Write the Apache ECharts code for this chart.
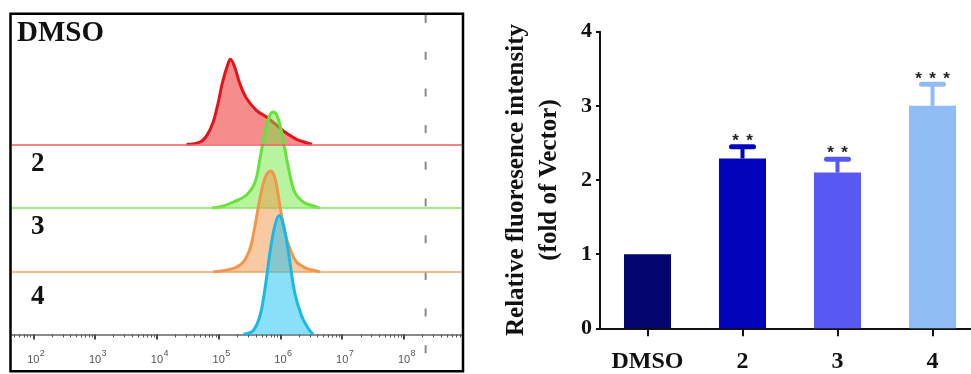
<!DOCTYPE html>
<html>
<head>
<meta charset="utf-8">
<script src="https://cdn.jsdelivr.net/npm/echarts@6/dist/echarts.min.js"></script>
<style>
html,body{margin:0;padding:0;background:#fff;}
#chart{width:971px;height:374px;}
</style>
</head>
<body>
<div id="chart"></div>
<script>
// ---------- Flow cytometry histograms (x = log10 fluorescence, y = relative count) ----------
const histNames = ['DMSO', '2', '3', '4'];
const histX_DMSO = [4.48, 4.70, 4.81, 4.91, 4.99, 5.07, 5.16, 5.19, 5.26, 5.34, 5.45, 5.61, 5.78, 5.94, 6.10, 6.26, 6.42, 6.51];
const histY_DMSO = [0, 2.3, 9, 22, 41, 64, 82, 85, 77, 61, 46, 34, 27, 19, 11, 5, 1.5, 0];
const histX_2 = [4.89, 5.02, 5.24, 5.45, 5.59, 5.67, 5.75, 5.83, 5.89, 5.96, 6.05, 6.13, 6.23, 6.37, 6.53, 6.64];
const histY_2 = [0, 1, 6, 13, 26, 50, 76, 93, 96, 90, 66, 40, 16, 6, 2, 0];
const histX_3 = [4.91, 5.24, 5.40, 5.51, 5.59, 5.67, 5.75, 5.84, 5.91, 5.99, 6.07, 6.15, 6.26, 6.42, 6.59, 6.64];
const histY_3 = [0, 3.7, 10, 24, 47, 74, 94, 101, 94, 67, 40, 24, 10, 3.7, 1, 0];
const histX_4 = [5.40, 5.56, 5.67, 5.75, 5.83, 5.91, 5.98, 6.05, 6.13, 6.23, 6.34, 6.45, 6.53];
const histY_4 = [0, 4, 19, 46, 82, 109, 119, 109, 82, 42, 19, 6, 0];
const gateLog = 8.35;                       // dashed gate line position (log10)
const decadeTicks = [2, 3, 4, 5, 6, 7, 8];  // log10 tick labels 10^n

// ---------- Bar chart ----------
const barCategories = ['DMSO', '2', '3', '4'];
const barValues = [1.0, 2.29, 2.10, 3.0];
const barUpper = [1.0, 2.45, 2.28, 3.29];
const barStars = [0, 2, 2, 3];

// ---------- styling ----------
const histLine = ['#e5141a', '#66e23a', '#f3964a', '#1cb8e4'];
const histFill = ['rgba(238,28,28,0.5)', 'rgba(114,231,66,0.5)', 'rgba(243,150,69,0.5)', 'rgba(21,193,241,0.5)'];
const histBase = ['#ee5a5e', '#7ee858', '#f3a466', null];
const barColors = ['#05056e', '#0303bb', '#5858f4', '#8fbcf2'];
const SERIF = '"Liberation Serif","Times New Roman",serif';
const SANS = '"Liberation Sans",Arial,sans-serif';

const X_MIN = 1.65, X_MAX = 8.95;
const baselines = [144.3, 208, 272, 334.5]; // pixel layout of offset panels
const H = 125;

const minorTicks = [];
for (let n = 1; n <= 8; n++) {
  for (let k = 2; k <= 9; k++) {
    const v = Math.log10(k) + n;
    if (v > X_MIN && v < X_MAX) minorTicks.push(v);
  }
}

const histXs = [histX_DMSO, histX_2, histX_3, histX_4];
const histYs = [histY_DMSO, histY_2, histY_3, histY_4];

const grids = [], xAxes = [], yAxes = [], series = [];
baselines.forEach((b, i) => {
  grids.push({left: 11.7, right: 971 - 462.7, bottom: 374 - b, height: H, outerBoundsMode: 'none', containLabel: false});
  const isBottom = i === 3;
  xAxes.push({
    type: 'value', gridIndex: i, min: X_MIN, max: X_MAX, position: 'bottom',
    show: isBottom,
    axisLine: {show: isBottom, onZero: false, lineStyle: {color: '#666', width: 1.5}},
    axisTick: {show: isBottom, customValues: decadeTicks, length: 5, lineStyle: {color: '#444', width: 2}},
    axisLabel: {
      show: isBottom, customValues: decadeTicks, margin: 20, hideOverlap: false,
      formatter: () => '10',
      fontFamily: SANS, fontSize: 11, color: '#555'
    },
    splitLine: {show: false}
  });
  yAxes.push({type: 'value', gridIndex: i, min: 0, max: H, show: false, splitLine: {show: false}});
  const s = {
    type: 'line', name: histNames[i], xAxisIndex: i, yAxisIndex: i,
    data: histXs[i].map((x, j) => [x, histYs[i][j]]),
    smooth: 0.35, symbol: 'none', silent: true,
    lineStyle: {color: histLine[i], width: 3},
    areaStyle: {color: histFill[i], opacity: 1, origin: 'start'},
    z: 3 + i
  };
  if (histBase[i]) {
    s.markLine = {silent: true, symbol: 'none', label: {show: false},
      lineStyle: {type: 'solid', color: histBase[i], width: 1.5},
      data: [{yAxis: 0}]};
  }
  series.push(s);
});
// minor ticks + superscript exponents for bottom panel
xAxes.push({
  type: 'value', gridIndex: 3, min: X_MIN, max: X_MAX, position: 'bottom',
  axisLine: {show: false},
  axisTick: {show: true, customValues: minorTicks, length: 3, lineStyle: {color: '#555', width: 1}},
  axisLabel: {
    show: true, customValues: decadeTicks, margin: 15, hideOverlap: false,
    formatter: v => '{s|' + v + '}',
    rich: {s: {fontFamily: SANS, fontSize: 9, color: '#555', padding: [0, 0, 0, 18]}}
  },
  splitLine: {show: false}
});
// gate dashed line panel
grids.push({left: 11.7, right: 971 - 462.7, top: 15, bottom: 374 - 358, outerBoundsMode: 'none'});
xAxes.push({type: 'value', gridIndex: 4, min: X_MIN, max: X_MAX, show: false, splitLine: {show: false}});
yAxes.push({type: 'value', gridIndex: 4, min: 0, max: 1, show: false, splitLine: {show: false}});
series.push({
  type: 'line', xAxisIndex: 5, yAxisIndex: 4, silent: true, symbol: 'none',
  data: [[gateLog, 1], [gateLog, 0]],
  lineStyle: {color: '#8a8a8a', width: 2, type: [8, 28.7]}, z: 2
});

// bar chart grid (index 5)
grids.push({left: 600, top: 31.7, width: 380, height: 296.6, outerBoundsMode: 'none'});
xAxes.push({
  type: 'category', gridIndex: 5, data: barCategories,
  axisLine: {show: true, lineStyle: {color: '#111', width: 2}},
  axisTick: {show: true, alignWithLabel: true, length: 8, lineStyle: {color: '#111', width: 2}},
  axisLabel: {fontFamily: SERIF, fontWeight: 'bold', fontSize: 24, color: '#111', margin: 21, interval: 0},
  splitLine: {show: false}
});
yAxes.push({
  type: 'value', gridIndex: 5, min: 0, max: 4, interval: 1,
  axisLine: {show: true, lineStyle: {color: '#111', width: 2}},
  axisTick: {show: true, length: 4, lineStyle: {color: '#111', width: 2}},
  axisLabel: {fontFamily: SERIF, fontWeight: 'bold', fontSize: 22, color: '#111', margin: 8},
  splitLine: {show: false},
  name: 'Relative fluoresence intensity\n(fold of Vector)',
  nameLocation: 'middle', nameRotate: 90, nameGap: 34,
  nameTextStyle: {fontFamily: SERIF, fontWeight: 'bold', fontSize: 25, lineHeight: 33, color: '#111', align: 'center'}
});
const barX = xAxes.length - 1, barY = yAxes.length - 1;
series.push({
  type: 'bar', xAxisIndex: barX, yAxisIndex: barY, barWidth: 47, silent: true,
  data: barValues.map((v, i) => ({value: v, itemStyle: {color: barColors[i]}}))
});
series.push({
  type: 'custom', xAxisIndex: barX, yAxisIndex: barY, silent: true, z: 5,
  data: barValues.map((v, i) => [i, v, barUpper[i], i]),
  renderItem: function (params, api) {
    const i = api.value(3);
    const p0 = api.coord([api.value(0), api.value(1)]);
    const p1 = api.coord([api.value(0), api.value(2)]);
    const children = [];
    const col = barColors[i];
    if (barUpper[i] > barValues[i]) {
      children.push({type: 'line', shape: {x1: p0[0], y1: p0[1], x2: p1[0], y2: p1[1]},
        style: {stroke: col, lineWidth: 4}});
      children.push({type: 'line', shape: {x1: p1[0] - 11, y1: p1[1], x2: p1[0] + 11, y2: p1[1]},
        style: {stroke: col, lineWidth: 5, lineCap: 'round'}});
    }
    const n = barStars[i];
    for (let k = 0; k < n; k++) {
      children.push({type: 'text', x: p1[0] + (k - (n - 1) / 2) * 14, y: p1[1] + 3,
        style: {text: '*', font: 'bold 17px ' + SANS, fill: '#222',
          align: 'center', verticalAlign: 'bottom', textAlign: 'center', textVerticalAlign: 'bottom'}});
    }
    return {type: 'group', children: children};
  }
});

const chart = echarts.init(document.getElementById('chart'), null, {renderer: 'canvas'});
chart.setOption({
  backgroundColor: '#fff',
  animation: false,
  grid: grids, xAxis: xAxes, yAxis: yAxes, series: series,
  graphic: [
    {type: 'rect', z: 100, shape: {x: 10.5, y: 13.8, width: 452.5, height: 357.5},
      style: {fill: 'none', stroke: '#000', lineWidth: 2.5}},
    {type: 'text', z: 100, x: 17, y: 34, style: {text: 'DMSO', font: 'bold 29px ' + SERIF, fill: '#111', verticalAlign: 'middle', textVerticalAlign: 'middle'}},
    {type: 'text', z: 100, x: 31, y: 164, style: {text: '2', font: 'bold 27px ' + SERIF, fill: '#111', verticalAlign: 'middle', textVerticalAlign: 'middle'}},
    {type: 'text', z: 100, x: 31, y: 227, style: {text: '3', font: 'bold 27px ' + SERIF, fill: '#111', verticalAlign: 'middle', textVerticalAlign: 'middle'}},
    {type: 'text', z: 100, x: 31, y: 297, style: {text: '4', font: 'bold 27px ' + SERIF, fill: '#111', verticalAlign: 'middle', textVerticalAlign: 'middle'}}
  ]
});
</script>
</body>
</html>
